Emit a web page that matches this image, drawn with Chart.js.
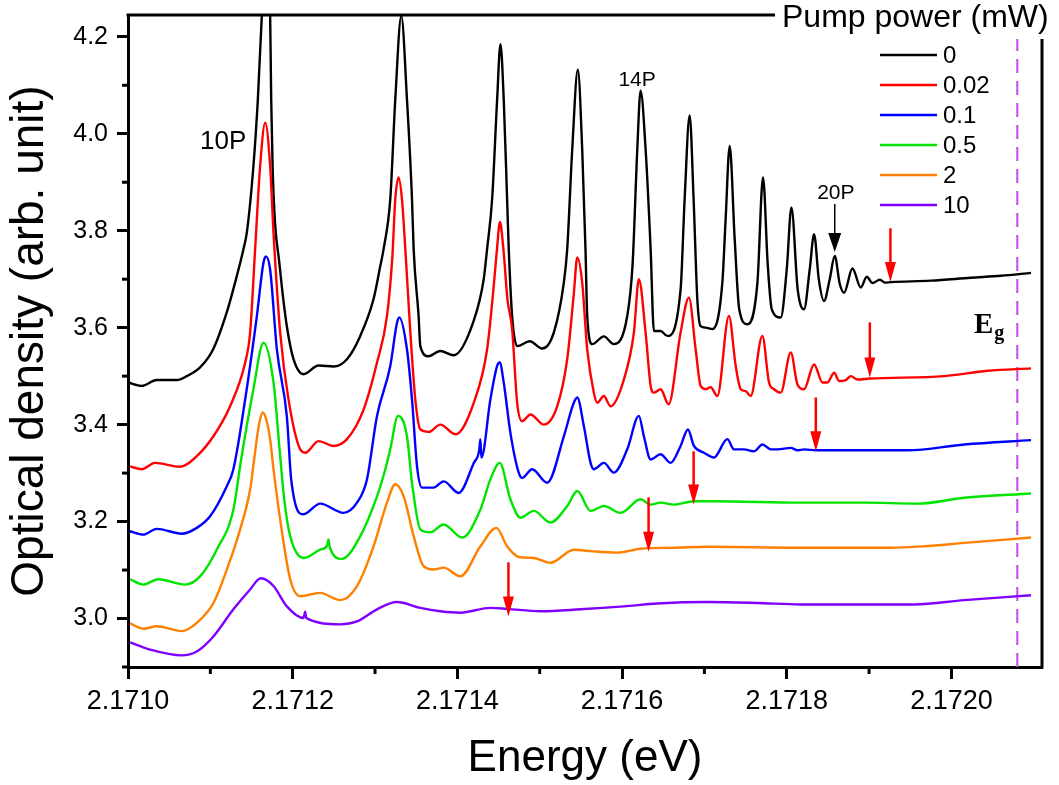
<!DOCTYPE html>
<html>
<head>
<meta charset="utf-8">
<title>Optical density vs energy</title>
<script src="https://cdn.jsdelivr.net/npm/chart.js@4.4.1/dist/chart.umd.min.js"></script>
<style>
  html, body { margin: 0; padding: 0; background: #fff; }
</style>
</head>
<body>
<canvas id="myChart" width="1059" height="785"></canvas>
<script>
// energies are kept as micro-eV above E0, optical density in arb. units
const E0 = 2.1710

// pump power 0 mW
let eP0 = [0, 16.7, 34.9, 59.2, 71.4, 87.5, 103.3, 120.0, 132.2, 140.2, 144.3, 152.3, 157.7, 162.6, 167.5, 172.6, 173.9, 175.7, 178.7, 183.6, 187.2,
    192.9, 201.0, 213.1, 231.4, 249.6, 265.9, 282.1, 298.2, 306.4, 310.4, 318.5, 324.6, 331.9, 338.8, 344.9, 346.9, 352.9, 355.0, 365.1, 379.3,
    395.5, 419.8, 432.0, 436.1, 442.2, 448.3, 452.3, 456.3, 460.4, 462.4, 466.5, 472.6, 487.9, 503.0, 517.1, 529.3, 533.4, 539.5, 546.3, 551.6,
    555.6, 557.7, 563.8, 577.9, 590.0, 606.3, 612.8, 618.5, 622.5, 628.6, 634.7, 638.7, 646.8, 655.0, 671.1, 676.0, 682.1, 686.9, 691.4, 695.4,
    701.5, 709.7, 721.8, 725.8, 730.7, 736.8, 742.3, 752.2, 764.4, 771.2, 776.9, 781.8, 792.7, 800.0, 805.7, 813.3, 821.0, 827.9, 833.2, 838.9,
    845.3, 852.2, 858.3, 864.4, 869.6, 879.8, 889.9, 897.2, 904.1, 913.1, 919.2, 926.5, 975.1, 1023.7, 1060.2, 1096.7]
let odP0 = [3.487, 3.480, 3.492, 3.492, 3.500, 3.518, 3.555, 3.632, 3.707, 3.762, 3.796, 3.933, 4.071, 4.247, 4.381, 4.247, 4.071, 3.927, 3.813, 3.737, 3.679,
    3.603, 3.535, 3.504, 3.522, 3.520, 3.535, 3.583, 3.659, 3.727, 3.762, 3.865, 4.071, 4.243, 4.071, 3.865, 3.762, 3.624, 3.562, 3.541, 3.552,
    3.543, 3.614, 3.700, 3.762, 3.865, 4.071, 4.185, 4.071, 3.865, 3.762, 3.624, 3.562, 3.572, 3.557, 3.590, 3.693, 3.762, 3.968, 4.132, 3.968,
    3.762, 3.624, 3.566, 3.582, 3.566, 3.624, 3.731, 3.968, 4.089, 3.968, 3.762, 3.593, 3.593, 3.583, 3.679, 3.865, 4.038, 3.865, 3.659, 3.603,
    3.600, 3.597, 3.693, 3.824, 3.975, 3.782, 3.638, 3.607, 3.693, 3.910, 3.731, 3.638, 3.621, 3.720, 3.848, 3.679, 3.638, 3.720, 3.793, 3.700,
    3.655, 3.700, 3.748, 3.690, 3.672, 3.722, 3.683, 3.705, 3.692, 3.699, 3.693, 3.694, 3.697, 3.703, 3.707, 3.713]

// pump power 0.02 mW
let eP002 = [2.4, 16.7, 32.8, 63.2, 83.5, 103.7, 124.0, 142.3, 148.3, 154.4, 160.5, 166.6, 172.6, 176.7, 184.8, 194.9, 209.1, 215.2, 231.4, 249.6,
    265.9, 286.1, 302.4, 314.5, 321.0, 324.6, 328.6, 332.7, 336.8, 342.9, 348.9, 355.0, 365.1, 379.3, 397.6, 419.9, 436.1, 443.8, 448.1, 451.7,
    455.9, 460.8, 466.5, 472.6, 478.7, 488.8, 505.0, 521.3, 533.4, 541.5, 545.6, 551.6, 557.7, 565.7, 569.9, 577.9, 586.0, 602.2, 614.4, 620.4,
    628.6, 634.7, 638.7, 646.8, 656.5, 671.1, 681.2, 689.4, 695.4, 701.5, 707.6, 715.7, 729.8, 738.0, 744.1, 750.2, 756.2, 770.4, 778.5, 784.6,
    792.7, 804.9, 813.0, 821.0, 833.2, 843.4, 849.5, 857.6, 863.6, 871.8, 877.8, 886.0, 900.9, 990.9, 1044.0, 1096.7]
let odP002 = [3.314, 3.308, 3.321, 3.313, 3.335, 3.376, 3.438, 3.528, 3.590, 3.762, 3.934, 4.023, 3.934, 3.796, 3.590, 3.452, 3.349, 3.342, 3.366, 3.356,
    3.370, 3.431, 3.528, 3.624, 3.745, 3.865, 3.910, 3.865, 3.762, 3.590, 3.452, 3.390, 3.385, 3.400, 3.380, 3.445, 3.555, 3.679, 3.762, 3.818,
    3.762, 3.659, 3.597, 3.445, 3.407, 3.421, 3.400, 3.438, 3.535, 3.672, 3.745, 3.693, 3.555, 3.466, 3.445, 3.459, 3.438, 3.493, 3.590, 3.700,
    3.590, 3.480, 3.466, 3.473, 3.442, 3.590, 3.662, 3.555, 3.480, 3.473, 3.477, 3.459, 3.624, 3.521, 3.473, 3.469, 3.459, 3.583, 3.487, 3.473,
    3.466, 3.549, 3.483, 3.473, 3.524, 3.487, 3.487, 3.507, 3.490, 3.492, 3.500, 3.493, 3.495, 3.500, 3.511, 3.516]

// pump power 0.1 mW
let eP01 = [2.4, 18.6, 34.9, 65.3, 83.5, 99.7, 120.0, 128.0, 142.3, 156.5, 164.5, 167.4, 172.6, 180.8, 192.9, 198.2, 213.1, 233.4, 261.8, 278.1,
    290.2, 302.4, 318.5, 326.7, 329.5, 338.8, 344.9, 351.0, 357.1, 371.2, 383.4, 401.6, 419.9, 426.7, 427.9, 429.2, 440.1, 448.3, 451.4, 456.3,
    464.4, 474.5, 478.7, 490.8, 509.1, 529.3, 541.4, 545.6, 553.6, 561.8, 565.7, 577.9, 590.0, 606.3, 620.4, 626.5, 634.7, 646.8, 659.0, 671.1,
    680.0, 687.3, 699.5, 711.6, 727.9, 735.9, 748.1, 760.2, 770.4, 780.6, 788.7, 804.9, 813.0, 821.0, 835.3, 946.7, 1015.6, 1096.7]
let odP01 = [3.180, 3.173, 3.185, 3.175, 3.187, 3.211, 3.273, 3.308, 3.452, 3.624, 3.734, 3.747, 3.720, 3.555, 3.417, 3.287, 3.215, 3.237, 3.218, 3.239,
    3.287, 3.418, 3.521, 3.610, 3.621, 3.555, 3.452, 3.314, 3.270, 3.270, 3.283, 3.259, 3.321, 3.349, 3.370, 3.332, 3.452, 3.521, 3.528, 3.487,
    3.383, 3.301, 3.290, 3.308, 3.280, 3.376, 3.445, 3.456, 3.397, 3.321, 3.308, 3.321, 3.301, 3.349, 3.418, 3.376, 3.328, 3.339, 3.321, 3.356,
    3.390, 3.356, 3.342, 3.332, 3.370, 3.349, 3.349, 3.345, 3.359, 3.349, 3.349, 3.352, 3.347, 3.349, 3.347, 3.347, 3.359, 3.368]

// pump power 0.5 mW
let eP05 = [2.4, 18.6, 36.8, 69.3, 87.5, 107.8, 128.0, 137.4, 152.3, 164.5, 176.7, 184.8, 189.7, 197.0, 213.1, 233.4, 241.9, 243.5, 245.0, 259.8,
    282.1, 302.4, 312.5, 318.5, 327.9, 338.8, 344.9, 355.0, 367.2, 383.4, 405.7, 428.0, 440.1, 451.4, 464.4, 476.6, 492.8, 513.1, 533.4, 545.6,
    561.8, 577.9, 598.2, 622.5, 634.7, 646.8, 663.0, 687.3, 711.6, 817.0, 894.0, 958.9, 1015.6, 1096.7]
let odP05 = [3.081, 3.070, 3.081, 3.070, 3.087, 3.142, 3.225, 3.328, 3.473, 3.569, 3.487, 3.335, 3.246, 3.170, 3.125, 3.142, 3.151, 3.163, 3.147, 3.123,
    3.170, 3.252, 3.308, 3.349, 3.418, 3.376, 3.280, 3.184, 3.178, 3.194, 3.167, 3.225, 3.287, 3.321, 3.246, 3.208, 3.222, 3.198, 3.232, 3.263,
    3.222, 3.232, 3.218, 3.246, 3.235, 3.239, 3.235, 3.242, 3.242, 3.239, 3.239, 3.237, 3.249, 3.258]

// pump power 2 mW
let eP2 = [2.4, 18.6, 34.9, 65.3, 83.5, 103.7, 120.0, 136.2, 148.3, 153.2, 158.1, 163.8, 167.8, 172.6, 176.7, 184.8, 197.0, 209.1, 233.4, 257.7,
    278.1, 298.2, 314.5, 324.6, 334.8, 346.9, 359.0, 371.2, 383.4, 403.6, 428.0, 447.4, 460.4, 474.5, 492.8, 513.1, 541.4, 561.8, 594.2, 622.5,
    663.0, 703.6, 817.0, 926.5, 966.9, 1015.6, 1096.7]
let odP2 = [2.990, 2.979, 2.984, 2.974, 2.991, 3.032, 3.101, 3.184, 3.266, 3.328, 3.390, 3.425, 3.411, 3.370, 3.308, 3.204, 3.081, 3.046, 3.053, 3.038,
    3.067, 3.149, 3.239, 3.277, 3.252, 3.170, 3.108, 3.101, 3.105, 3.087, 3.149, 3.187, 3.149, 3.127, 3.125, 3.115, 3.142, 3.139, 3.136, 3.144,
    3.146, 3.148, 3.146, 3.146, 3.149, 3.156, 3.167]

// pump power 10 mW
let eP10 = [2.4, 26.7, 65.3, 83.5, 103.7, 128.0, 148.3, 161.3, 176.7, 192.9, 213.1, 215.2, 216.4, 257.7, 278.1, 302.4, 326.7, 355.0, 379.3, 403.6,
    440.1, 460.4, 500.9, 549.5, 602.2, 642.8, 703.6, 764.4, 817.0, 954.8, 1015.6, 1096.7]
let odP10 = [2.951, 2.936, 2.924, 2.932, 2.963, 3.019, 3.060, 3.083, 3.067, 3.025, 3.001, 3.014, 3.001, 2.988, 2.994, 3.019, 3.034, 3.022, 3.015, 3.012,
    3.022, 3.020, 3.015, 3.019, 3.025, 3.031, 3.034, 3.032, 3.029, 3.029, 3.038, 3.048]

let seriesLabels = ['0', '0.02', '0.1', '0.5', '2', '10']
let seriesColors = ['#000000', '#ff0000', '#0000ff', '#00e400', '#ff8000', '#8000ff']
let seriesE = [eP0, eP002, eP01, eP05, eP2, eP10]
let seriesOD = [odP0, odP002, odP01, odP05, odP2, odP10]

let xTicks = [2.1710, 2.1712, 2.1714, 2.1716, 2.1718, 2.1720]
let xTickLabels = ['2.1710', '2.1712', '2.1714', '2.1716', '2.1718', '2.1720']
let xMinor = [2.1711, 2.1713, 2.1715, 2.1717, 2.1719]
let yTicks = [3.0, 3.2, 3.4, 3.6, 3.8, 4.0, 4.2]
let yTickLabels = ['3.0', '3.2', '3.4', '3.6', '3.8', '4.0', '4.2']
let yMinor = [2.9, 3.1, 3.3, 3.5, 3.7, 3.9, 4.1]

// onset arrows (red), one per curve: energy, tail and tip optical density
let onsetE = [2.1719259, 2.1719009, 2.1718353, 2.1716869, 2.1716322, 2.1714620]
let onsetTail = [3.805, 3.611, 3.456, 3.345, 3.250, 3.116]
let onsetTip = [3.694, 3.497, 3.345, 3.235, 3.138, 3.004]

// band gap
let egEnergy = 2.17208

const FONT = '"Liberation Sans", Arial, sans-serif'
Chart.defaults.font.family = FONT
Chart.defaults.color = '#000'

let datasets = seriesLabels.map((label, i) => ({
    label: label,
    data: seriesE[i].map((de, j) => ({x: E0 + de * 1e-6, y: seriesOD[i][j]})),
    borderColor: seriesColors[i],
    borderWidth: 2.4,
    pointRadius: 0,
    fill: false,
    cubicInterpolationMode: 'monotone',
    order: seriesLabels.length - i
}))

let drawArrow = (ctx, x, yTail, yTip, color, lw, headW, headH) => {
    ctx.save()
    ctx.strokeStyle = color
    ctx.fillStyle = color
    ctx.lineWidth = lw
    ctx.beginPath()
    ctx.moveTo(x, yTail)
    ctx.lineTo(x, yTip - headH + 2)
    ctx.stroke()
    ctx.beginPath()
    ctx.moveTo(x - headW / 2, yTip - headH)
    ctx.lineTo(x + headW / 2, yTip - headH)
    ctx.lineTo(x, yTip)
    ctx.closePath()
    ctx.fill()
    ctx.restore()
}

let decorations = {
    id: 'decorations',
    beforeDatasetsDraw(chart) {
        let {ctx, chartArea, scales} = chart
        let px = scales.x.getPixelForValue(egEnergy)
        ctx.save()
        ctx.strokeStyle = '#cc44ee'
        ctx.lineWidth = 2
        ctx.setLineDash([14, 8])
        ctx.beginPath()
        ctx.moveTo(px, chartArea.top)
        ctx.lineTo(px, chartArea.bottom)
        ctx.stroke()
        ctx.restore()
    },
    afterDraw(chart) {
        let {ctx, chartArea, scales} = chart
        let x = scales.x, y = scales.y
        ctx.save()

        // minor ticks
        ctx.strokeStyle = '#000'
        ctx.lineWidth = 3
        xMinor.forEach(v => {
            let p = x.getPixelForValue(v)
            ctx.beginPath()
            ctx.moveTo(p, chartArea.bottom)
            ctx.lineTo(p, chartArea.bottom + 7)
            ctx.stroke()
        })
        yMinor.forEach(v => {
            let p = y.getPixelForValue(v)
            ctx.beginPath()
            ctx.moveTo(chartArea.left, p)
            ctx.lineTo(chartArea.left - 6, p)
            ctx.stroke()
        })

        // top and right frame
        ctx.beginPath()
        ctx.moveTo(chartArea.left - 1.5, chartArea.top)
        ctx.lineTo(chartArea.right + 1.5, chartArea.top)
        ctx.moveTo(chartArea.right, chartArea.top)
        ctx.lineTo(chartArea.right, chartArea.bottom + 1.5)
        ctx.stroke()

        // legend title box
        ctx.fillStyle = '#fff'
        ctx.fillRect(775, 0, 284, 39)
        ctx.fillStyle = '#000'
        ctx.font = '32px ' + FONT
        ctx.textAlign = 'left'
        ctx.textBaseline = 'alphabetic'
        ctx.fillText('Pump power (mW)', 782, 27)

        // legend entries
        ctx.font = '24px ' + FONT
        ctx.textBaseline = 'middle'
        seriesLabels.forEach((label, i) => {
            let ry = 55 + i * 30
            ctx.strokeStyle = seriesColors[i]
            ctx.lineWidth = 2.5
            ctx.beginPath()
            ctx.moveTo(880, ry)
            ctx.lineTo(937, ry)
            ctx.stroke()
            ctx.fillStyle = '#000'
            ctx.fillText(label, 943, ry + 1)
        })

        // onset arrows
        onsetE.forEach((e, i) => {
            drawArrow(ctx, x.getPixelForValue(e), y.getPixelForValue(onsetTail[i]), y.getPixelForValue(onsetTip[i]), '#ff0000', 2.5, 11, 20)
        })
        drawArrow(ctx, x.getPixelForValue(2.1718583), y.getPixelForValue(3.855), y.getPixelForValue(3.756), '#000', 1.5, 13, 19)

        // peak labels
        ctx.fillStyle = '#000'
        ctx.textBaseline = 'alphabetic'
        ctx.textAlign = 'left'
        ctx.font = '26px ' + FONT
        ctx.fillText('10P', x.getPixelForValue(2.1710875), y.getPixelForValue(3.968))
        ctx.textAlign = 'center'
        ctx.font = '21px ' + FONT
        ctx.fillText('14P', x.getPixelForValue(2.1716183), y.getPixelForValue(4.098))
        ctx.fillText('20P', x.getPixelForValue(2.1718596), y.getPixelForValue(3.865))

        // band gap label
        ctx.textAlign = 'left'
        let ex = x.getPixelForValue(2.1720274), ey = y.getPixelForValue(3.590)
        ctx.font = 'bold 29px "Liberation Serif", serif'
        ctx.fillText('E', ex, ey)
        let w = ctx.measureText('E').width
        ctx.font = 'bold 20px "Liberation Serif", serif'
        ctx.fillText('g', ex + w + 1, ey + 6)

        ctx.restore()
    }
}

let ctx = document.getElementById('myChart').getContext('2d')
let chart = new Chart(ctx, {
    type: 'line',
    data: {datasets: datasets},
    options: {
        responsive: false,
        animation: false,
        devicePixelRatio: 1,
        layout: {padding: {top: 15, right: 17, left: 0, bottom: 0}},
        plugins: {
            legend: {display: false},
            tooltip: {enabled: false}
        },
        scales: {
            x: {
                type: 'linear',
                min: 2.1710,
                max: 2.17211,
                afterFit: (s) => {
                    s.height = 118
                    s.paddingLeft = 0
                    s.paddingRight = 0
                },
                afterBuildTicks: (s) => { s.ticks = xTicks.map(v => ({value: v})) },
                ticks: {
                    callback: (v, i) => xTickLabels[i],
                    font: {size: 27},
                    color: '#000',
                    padding: 6,
                    autoSkip: false,
                    maxRotation: 0
                },
                grid: {drawOnChartArea: false, tickLength: 12, tickWidth: 3, tickColor: '#000'},
                border: {width: 3, color: '#000'},
                title: {display: true, text: 'Energy (eV)', font: {size: 44}, color: '#000', padding: {top: 0, bottom: 0}}
            },
            y: {
                type: 'linear',
                min: 2.9,
                max: 4.245,
                afterFit: (s) => {
                    s.width = 128
                    s.paddingTop = 0
                    s.paddingBottom = 0
                },
                afterBuildTicks: (s) => { s.ticks = yTicks.map(v => ({value: v})) },
                ticks: {
                    callback: (v, i) => yTickLabels[i],
                    font: {size: 25},
                    color: '#000',
                    padding: 9
                },
                grid: {drawOnChartArea: false, tickLength: 11, tickWidth: 3, tickColor: '#000'},
                border: {width: 3, color: '#000'},
                title: {display: true, text: 'Optical density (arb. unit)', font: {size: 46}, color: '#000', padding: {top: 3, bottom: 0}}
            }
        }
    },
    plugins: [decorations]
})
</script>
</body>
</html>
